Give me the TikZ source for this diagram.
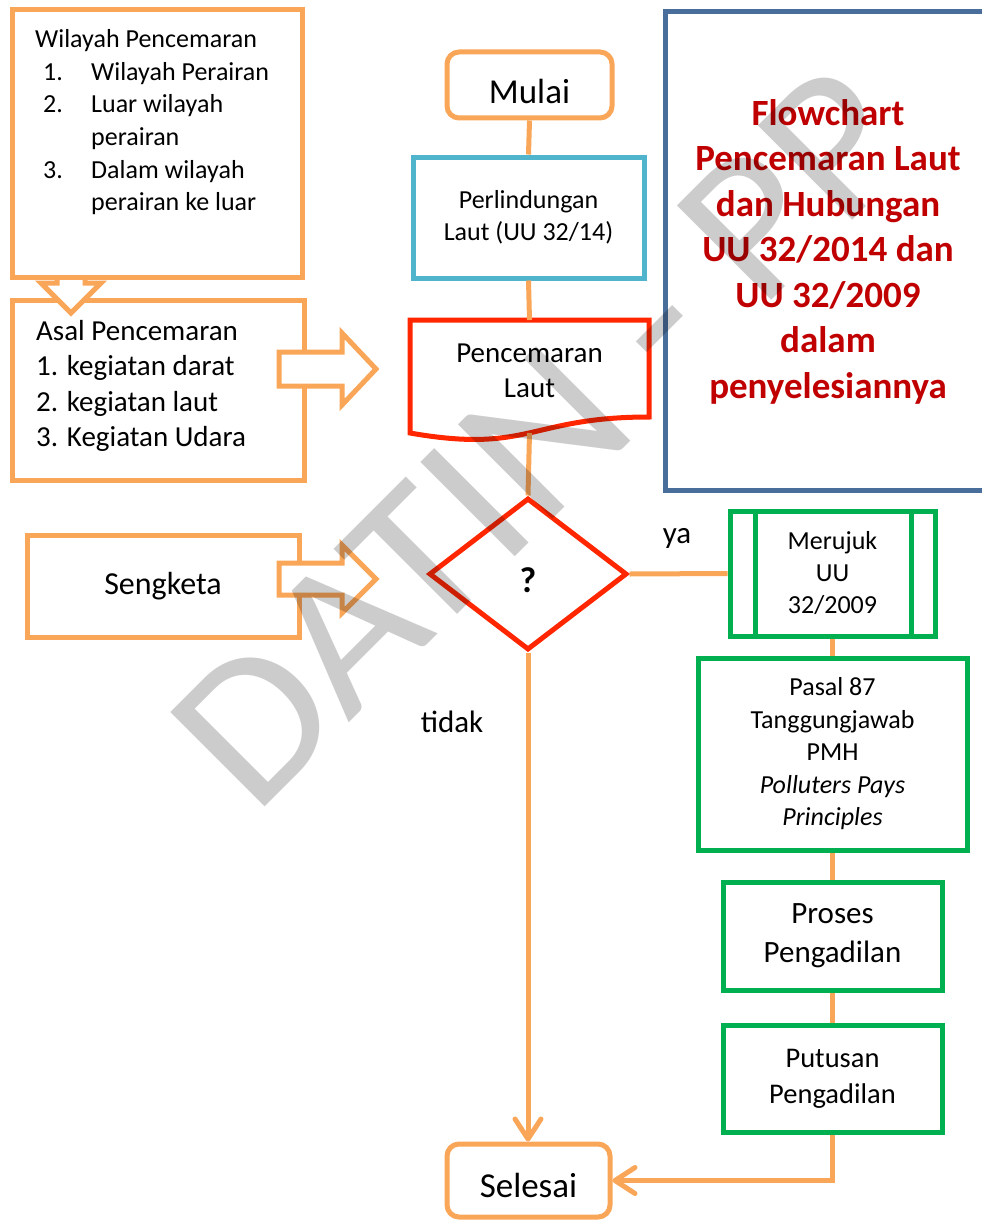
\documentclass[tikz,border=0pt]{standalone}
\usepackage{fontspec}
\setmainfont{Carlito}
\usetikzlibrary{shapes.geometric,arrows.meta}
\definecolor{orng}{RGB}{249,166,88}
\definecolor{lblue}{RGB}{80,180,205}
\definecolor{redb}{RGB}{255,38,0}
\definecolor{grn}{RGB}{0,176,80}
\definecolor{dblue}{RGB}{74,110,155}
\definecolor{dred}{RGB}{192,0,0}
\newcommand\fsz[2]{\fontsize{#1}{#2}\selectfont}
\begin{document}
\begin{tikzpicture}[x=1pt,y=-1pt,
  every node/.style={inner sep=0pt},
  bx/.style={draw, line width=5pt, fill=white, align=center},
  conn/.style={draw=orng, line width=5pt},
  arr/.style={conn, -{Straight Barb[length=20pt,width=26pt,round]}},
  blk/.style={draw=orng, line width=5pt, fill=white, line join=miter},
  lt/.style={anchor=base west, font=\fsz{26}{32}},
  asaltxt/.style={anchor=base west, font=\fsz{29}{35}},
  lbl/.style={font=\fsz{31}{36}}
]
\useasboundingbox (0,0) rectangle (982,1220);

% ---- left column ----
\node[bx, draw=orng, minimum width=292, minimum height=180] (asal) at (158,390) {};
\draw[blk] (57,265) -- (57,283) -- (41,283) -- (71,313) -- (101,283) -- (85,283) -- (85,265);
\node[bx, draw=orng, minimum width=290, minimum height=267] (wil) at (157,143.5) {};

\node[lt] (w0) at (35,48) {Wilayah Pencemaran};
\node[lt] (w1n) at (43,80.5) {1.};
\node[lt] (w1) at (91,80.5) {Wilayah Perairan};
\node[lt] (w2n) at (43,113) {2.};
\node[lt] (w2) at (91,113) {Luar wilayah};
\node[lt] (w2b) at (91,145.5) {perairan};
\node[lt] (w3n) at (43,178) {3.};
\node[lt] (w3) at (91,178) {Dalam wilayah};
\node[lt] (w3b) at (91,210.5) {perairan ke luar};

\node[asaltxt] (a0) at (36,340) {Asal Pencemaran};
\node[asaltxt] (a1) at (36,375.5) {1. kegiatan darat};
\node[asaltxt] (a2) at (36,411) {2. kegiatan laut};
\node[asaltxt] (a3) at (36,446.5) {3. Kegiatan Udara};

\draw[blk] (279,352) -- (342,352) -- (342,333) -- (376,369) -- (342,405) -- (342,386) -- (279,386) -- cycle;

\node[bx, draw=orng, minimum width=272, minimum height=102, font=\fsz{32}{38}] (seng) at (163,586) {Sengketa};
\draw[blk] (279,563) -- (342,563) -- (342,545) -- (376,579) -- (342,613) -- (342,595) -- (279,595) -- cycle;

% ---- main column ----
\node[bx, draw=orng, rounded corners=12pt, minimum width=165, minimum height=66] (mulai) at (529.5,85) {};
\node[font=\fsz{35}{40}] (mulaiT) at (529.5,91) {Mulai};

\node[bx, draw=lblue, minimum width=231, minimum height=121, font=\fsz{26}{32}] (perl) at (528.5,217.5) {Perlindungan\\Laut (UU 32/14)};

\draw[redb, line width=5pt, fill=white] (410,320) -- (649,320) -- (649,417)
  .. controls (529.5,417) and (529.5,454) .. (410,433) -- cycle;
\node[font=\fsz{29}{35}, align=center] (pl) at (529.5,371) {Pencemaran\\Laut};
\coordinate (plTop) at (529.5,320);
\coordinate (plBot) at (529.5,433);

\node[diamond, draw=redb, line width=5pt, fill=white, minimum width=198, minimum height=152] (dia) at (528,574) {};
\node[font=\fsz{36}{40}\bfseries] (q) at (528,580) {?};

\node[bx, draw=orng, rounded corners=12pt, minimum width=163, minimum height=73] (sel) at (528.5,1180.5) {};
\node[font=\fsz{35}{40}] (selT) at (528.5,1185) {Selesai};

% ---- right column ----
\draw[dblue, line width=5pt] (982,12) -- (665,12) -- (665,490) -- (982,490);
\node[text=dred, font=\fsz{37}{45.5}\bfseries, align=center] (title) at (828,251.5)
  {Flowchart\\Pencemaran Laut\\dan Hubungan\\UU 32/2014 dan\\UU 32/2009\\dalam\\penyelesiannya};

\node[bx, draw=grn, minimum width=205, minimum height=125, font=\fsz{26}{32}] (mer) at (832.5,573.5) {Merujuk\\UU\\32/2009};
\draw[grn, line width=5pt] ([xshift=28pt]mer.north west) -- ([xshift=28pt]mer.south west);
\draw[grn, line width=5pt] ([xshift=-26.5pt]mer.north east) -- ([xshift=-26.5pt]mer.south east);

\node[bx, draw=grn, minimum width=269, minimum height=192, font=\fsz{26}{32.5}] (pasal) at (832.5,754)
  {Pasal 87\\Tanggungjawab\\PMH\\\textit{Polluters Pays}\\\textit{Principles}};
\node[bx, draw=grn, minimum width=219, minimum height=108, font=\fsz{31}{39}] (proses) at (832.5,936) {Proses\\Pengadilan};
\node[bx, draw=grn, minimum width=219, minimum height=107, font=\fsz{28.5}{36}] (put) at (832.5,1078.5) {Putusan\\Pengadilan};

% ---- connectors ----
\draw[conn] (mulai.south) -- (perl.north);
\draw[conn] (perl.south) -- (plTop);
\draw[conn] (plBot) -- (dia.north);
\draw[conn] (dia.east) -- (mer.west);
\node[lbl] (ya) at (677,538) {ya};
\draw[arr] (dia.south) -- (dia.south |- sel.north);
\node[lbl] (tidak) at (452,722) {tidak};
\draw[conn] (mer.south) -- (pasal.north);
\draw[conn] (pasal.south) -- (proses.north);
\draw[conn] (proses.south) -- (put.north);
\draw[arr] (put.south) -- (put.south |- sel.east) -- (sel.east);

% ---- watermark ----
\node[rotate=45, xscale=1.06, font=\fsz{208}{208}, text=black, text opacity=0.2] (wm) at (541,437) {DATIN - PP};
\end{tikzpicture}
\end{document}
